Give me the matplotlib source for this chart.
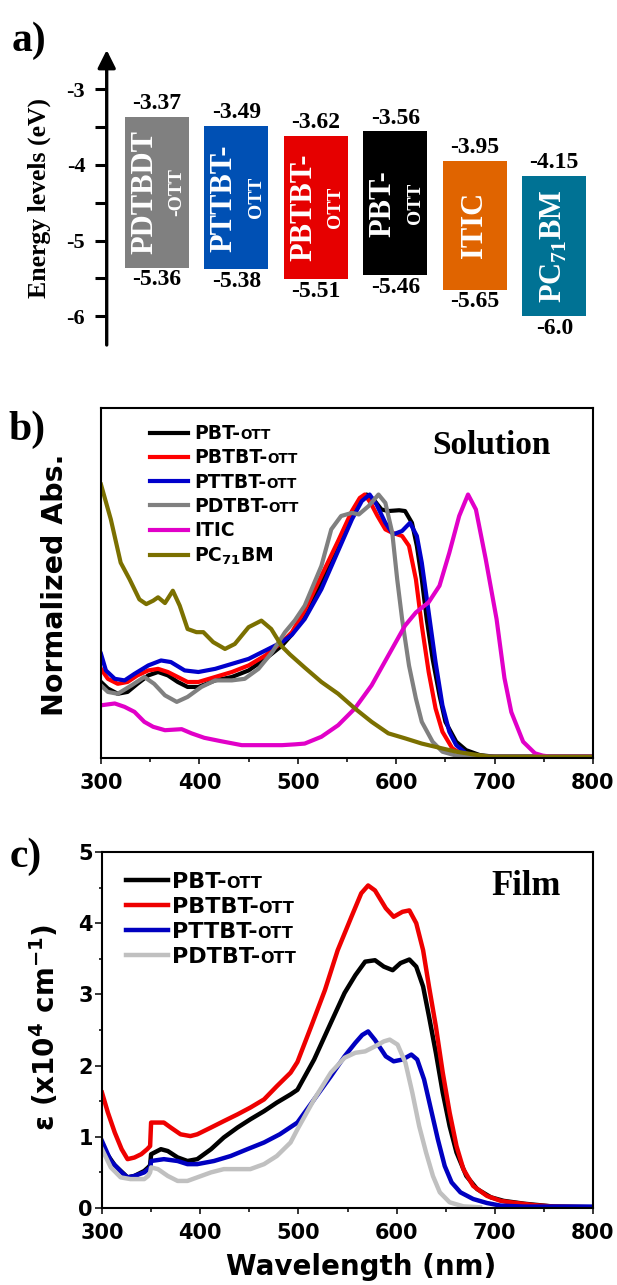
import matplotlib
matplotlib.use('Agg')
import matplotlib.pyplot as plt

plt.rcParams['font.family'] = ['DejaVu Sans']
plt.rcParams['font.weight'] = 'bold'
plt.rcParams['axes.unicode_minus'] = False
plt.rcParams['mathtext.fontset'] = 'custom'
plt.rcParams['mathtext.rm'] = 'Liberation Serif:bold'
plt.rcParams['mathtext.sf'] = 'DejaVu Sans:bold'
plt.rcParams['mathtext.it'] = 'DejaVu Sans:bold'
plt.rcParams['mathtext.bf'] = 'DejaVu Sans:bold'
SERIF = 'Liberation Serif'

# ---------------- a) energy levels ----------------
mat_names = ['PDTBDT', 'PTTBT-', 'PBTBT-', 'PBT-', 'ITIC', r'PC$_{\mathrm{71}}$BM']
mat_suffix = ['-OTT', 'OTT', 'OTT', 'OTT', '', '']
lumo = [-3.37, -3.49, -3.62, -3.56, -3.95, -4.15]
homo = [-5.36, -5.38, -5.51, -5.46, -5.65, -6.0]
lumo_txt = ['-3.37', '-3.49', '-3.62', '-3.56', '-3.95', '-4.15']
homo_txt = ['-5.36', '-5.38', '-5.51', '-5.46', '-5.65', '-6.0']
bar_colors = ['#808080', '#0050b4', '#e60000', '#000000', '#e06400', '#007294']

# ---------------- b) solution spectra ----------------
wl_pbt = [300, 307, 317, 327, 337, 348, 358, 368, 378, 388, 399, 416, 433, 450, 467, 484, 493,
          507, 524, 541, 555, 563, 570, 577, 585, 592, 603, 609, 616, 621, 626, 631, 637, 644,
          650, 661, 671, 685, 700, 800]
ab_pbt = [0.285, 0.26, 0.24, 0.247, 0.278, 0.31, 0.323, 0.31, 0.285, 0.266, 0.266, 0.291, 0.304,
          0.329, 0.373, 0.424, 0.462, 0.538, 0.665, 0.804, 0.918, 0.981, 1.0, 0.981, 0.943, 0.937,
          0.94, 0.937, 0.892, 0.804, 0.677, 0.525, 0.373, 0.234, 0.133, 0.057, 0.025, 0.006, 0.0, 0.0]

wl_pbtbt = [300, 307, 317, 327, 337, 348, 358, 368, 378, 388, 399, 416, 433, 450, 467, 484, 494,
            507, 524, 541, 555, 563, 568, 574, 581, 589, 596, 606, 613, 620, 626, 633, 640, 647,
            657, 667, 678, 800]
ab_pbtbt = [0.335, 0.297, 0.278, 0.285, 0.31, 0.329, 0.335, 0.323, 0.304, 0.285, 0.285, 0.304,
            0.323, 0.348, 0.386, 0.437, 0.475, 0.557, 0.69, 0.823, 0.937, 0.987, 1.0, 0.968, 0.918,
            0.867, 0.854, 0.842, 0.804, 0.677, 0.5, 0.323, 0.184, 0.095, 0.032, 0.009, 0.0, 0.0]

wl_pttbt = [300, 305, 314, 324, 334, 348, 361, 371, 385, 399, 416, 433, 450, 467, 484, 494,
            507, 524, 541, 555, 565, 573, 580, 589, 597, 606, 614, 621, 626, 633, 640, 647, 654,
            661, 671, 681, 800]
ab_pttbt = [0.392, 0.329, 0.297, 0.291, 0.316, 0.348, 0.367, 0.361, 0.329, 0.323, 0.335, 0.354,
            0.373, 0.405, 0.437, 0.465, 0.525, 0.639, 0.785, 0.905, 0.975, 1.0, 0.962, 0.892,
            0.848, 0.861, 0.892, 0.842, 0.74, 0.551, 0.361, 0.196, 0.095, 0.044, 0.013, 0.0, 0.0]

wl_pdtbt = [300, 307, 317, 331, 344, 354, 365, 377, 388, 402, 416, 433, 446, 460, 474, 487, 497,
            507, 524, 534, 544, 555, 562, 572, 582, 589, 596, 601, 606, 613, 620, 626, 637, 647,
            661, 680, 800]
ab_pdtbt = [0.272, 0.247, 0.24, 0.272, 0.304, 0.278, 0.234, 0.209, 0.228, 0.266, 0.291, 0.291,
            0.297, 0.335, 0.399, 0.475, 0.52, 0.576, 0.728, 0.867, 0.918, 0.93, 0.924, 0.956, 1.0,
            0.968, 0.854, 0.677, 0.525, 0.348, 0.222, 0.133, 0.057, 0.019, 0.004, 0.0, 0.0]

wl_itic = [300, 314, 324, 334, 344, 353, 365, 382, 392, 405, 422, 443, 463, 484, 497, 507, 524,
           541, 558, 575, 592, 609, 620, 633, 644, 654, 664, 673, 681, 691, 702, 710, 717, 729,
           741, 749, 757, 800]
ab_itic = [0.196, 0.203, 0.19, 0.171, 0.133, 0.114, 0.101, 0.105, 0.089, 0.072, 0.059, 0.044,
           0.044, 0.044, 0.047, 0.05, 0.076, 0.12, 0.184, 0.272, 0.386, 0.5, 0.55, 0.589, 0.652,
           0.778, 0.918, 1.0, 0.943, 0.753, 0.525, 0.3, 0.17, 0.057, 0.013, 0.004, 0.0, 0.0]

wl_pcbm = [300, 310, 320, 329, 339, 346, 353, 358, 365, 373, 380, 388, 397, 404, 414, 426, 436,
           450, 463, 473, 484, 492, 507, 524, 541, 558, 575, 592, 609, 626, 644, 661, 678, 695, 800]
ab_pcbm = [1.038, 0.905, 0.74, 0.677, 0.6, 0.582, 0.595, 0.608, 0.586, 0.633, 0.576, 0.487,
           0.475, 0.475, 0.437, 0.411, 0.43, 0.494, 0.519, 0.487, 0.42, 0.39, 0.34, 0.285, 0.24,
           0.184, 0.133, 0.089, 0.07, 0.05, 0.034, 0.019, 0.009, 0.0, 0.0]

# ---------------- c) film extinction ----------------
wl_f_pbt = [300, 313, 326, 333, 343, 347, 349, 350, 360, 367, 377, 387, 397, 411, 424, 438, 451,
            465, 478, 492, 499, 516, 533, 547, 558, 568, 578, 587, 596, 604, 613, 620, 627, 633,
            640, 647, 654, 661, 671, 682, 696, 709, 730, 760, 800]
ep_f_pbt = [0.86, 0.6, 0.43, 0.45, 0.52, 0.57, 0.6, 0.755, 0.826, 0.8, 0.71, 0.66, 0.686, 0.826,
            0.99, 1.13, 1.245, 1.36, 1.48, 1.595, 1.66, 2.085, 2.6, 3.02, 3.27, 3.46, 3.48, 3.39,
            3.34, 3.44, 3.49, 3.39, 3.11, 2.69, 2.18, 1.62, 1.15, 0.78, 0.45, 0.266, 0.15, 0.1,
            0.06, 0.02, 0.01]

wl_f_pbtbt = [300, 306, 313, 320, 326, 333, 340, 346, 349, 350, 357, 363, 370, 380, 390, 397,
              411, 424, 438, 451, 465, 478, 492, 499, 513, 527, 540, 554, 564, 571, 578, 589, 597,
              606, 613, 620, 627, 633, 640, 647, 654, 661, 668, 678, 692, 706, 716, 740, 760, 800]
ep_f_pbtbt = [1.62, 1.34, 1.06, 0.826, 0.686, 0.709, 0.756, 0.826, 0.87, 1.2, 1.2, 1.2, 1.13,
              1.035, 1.01, 1.035, 1.13, 1.22, 1.315, 1.41, 1.525, 1.71, 1.9, 2.05, 2.55, 3.06,
              3.62, 4.09, 4.42, 4.53, 4.46, 4.21, 4.09, 4.16, 4.18, 4.0, 3.62, 3.11, 2.55, 1.9,
              1.34, 0.87, 0.546, 0.31, 0.17, 0.1, 0.08, 0.04, 0.02, 0.01]

wl_f_pttbt = [300, 309, 320, 326, 333, 343, 347, 349, 350, 363, 377, 387, 397, 414, 431, 448,
              465, 481, 499, 516, 533, 547, 558, 565, 571, 578, 589, 597, 606, 615, 621, 628, 635,
              642, 649, 656, 665, 678, 692, 706, 730, 800]
ep_f_pttbt = [0.94, 0.66, 0.5, 0.43, 0.45, 0.5, 0.546, 0.55, 0.66, 0.686, 0.66, 0.616, 0.616,
              0.66, 0.73, 0.826, 0.92, 1.035, 1.2, 1.525, 1.85, 2.13, 2.32, 2.43, 2.48, 2.36, 2.13,
              2.06, 2.085, 2.155, 2.085, 1.805, 1.385, 0.965, 0.59, 0.36, 0.22, 0.126, 0.07,
              0.033, 0.02, 0.02]

wl_f_pdtbt = [300, 309, 319, 329, 343, 347, 349, 350, 357, 367, 377, 387, 397, 411, 424, 438,
              451, 465, 478, 492, 499, 516, 533, 547, 558, 568, 578, 587, 593, 601, 609, 616, 623,
              630, 637, 644, 654, 668, 685]
ep_f_pdtbt = [0.826, 0.57, 0.43, 0.406, 0.406, 0.45, 0.5, 0.57, 0.546, 0.45, 0.38, 0.38, 0.43,
              0.5, 0.546, 0.546, 0.546, 0.616, 0.73, 0.92, 1.105, 1.525, 1.9, 2.11, 2.18, 2.2,
              2.27, 2.34, 2.365, 2.295, 2.04, 1.62, 1.15, 0.78, 0.45, 0.22, 0.08, 0.023, 0.01]

W, H = 617, 1285
fig = plt.figure(figsize=(W / 100, H / 100), dpi=100)


def box(left, top, right, bottom):
    return [left / W, 1 - bottom / H, (right - left) / W, (bottom - top) / H]


# ===== panel a =====
axa = fig.add_axes(box(106.7, 50, 600, 345))
xs = list(range(len(lumo)))
heights = [l - h for l, h in zip(lumo, homo)]
axa.bar(xs, heights, bottom=homo, width=0.805, color=bar_colors)
axa.set_xlim(-0.63, 5.575)
axa.set_ylim(-6.378, -2.485)
for s in ['top', 'right', 'bottom', 'left']:
    axa.spines[s].set_visible(False)
axa.set_xticks([])
axa.set_yticks([-3, -4, -5, -6])
axa.set_yticks([-3.5, -4.5, -5.5], minor=True)
axa.set_yticklabels(['-3', '-4', '-5', '-6'], family=SERIF, fontsize=16, fontweight='bold')
axa.tick_params(axis='y', which='both', direction='out', length=8.5, width=2.2, pad=7)
axa.annotate('', xy=(0, 1), xytext=(0, 0), xycoords='axes fraction',
             arrowprops=dict(arrowstyle='-|>,head_length=0.6,head_width=0.3', lw=2.4,
                             color='k', shrinkA=0, shrinkB=0, mutation_scale=18))
for i in xs:
    mid = (lumo[i] + homo[i]) / 2
    if mat_suffix[i]:
        axa.text(i - 0.15, mid, mat_names[i], rotation=90, ha='center', va='center',
                 color='white', family=SERIF, fontsize=22, fontweight='bold')
        axa.text(i + 0.25, mid, mat_suffix[i], rotation=90, ha='center', va='center',
                 color='white', family=SERIF, fontsize=14, fontweight='bold')
    else:
        axa.text(i, mid, mat_names[i], rotation=90, ha='center', va='center',
                 color='white', family=SERIF, fontsize=22, fontweight='bold')
    axa.annotate(lumo_txt[i], (i, lumo[i]), xytext=(0, 2), textcoords='offset points',
                 ha='center', va='bottom', family=SERIF, fontsize=17, fontweight='bold')
    axa.annotate(homo_txt[i], (i, homo[i]), xytext=(0, -1), textcoords='offset points',
                 ha='center', va='top', family=SERIF, fontsize=17, fontweight='bold')
fig.text(39 / W, 1 - 198 / H, 'Energy levels (eV)', rotation=90, ha='center', va='center',
         family=SERIF, fontsize=18.5, fontweight='bold')

# ===== panel b =====
axb = fig.add_axes(box(101, 408, 593, 758))
sol = [(wl_pbt, ab_pbt, '#000000', 'PBT-'),
       (wl_pbtbt, ab_pbtbt, '#ff0000', 'PBTBT-'),
       (wl_pttbt, ab_pttbt, '#0000cc', 'PTTBT-'),
       (wl_pdtbt, ab_pdtbt, '#808080', 'PDTBT-'),
       (wl_itic, ab_itic, '#e100c8', 'ITIC'),
       (wl_pcbm, ab_pcbm, '#7b7000', r'PC$_{\mathsf{71}}$BM')]
for wl, ab, c, lab in sol:
    axb.plot(wl, ab, color=c, lw=3.0, label=lab, solid_joinstyle='round')
axb.set_xlim(300, 800)
axb.set_ylim(-0.005, 1.33)
axb.set_yticks([])
axb.set_xticks(range(300, 801, 100))
axb.set_xticks(range(350, 800, 100), minor=True)
axb.tick_params(axis='x', which='both', direction='out', labelsize=15, pad=6, width=1.1)
axb.tick_params(axis='x', which='major', length=4.5)
axb.tick_params(axis='x', which='minor', length=3)
for s in axb.spines.values():
    s.set_linewidth(1.5)
leg_b = axb.legend(loc='upper left', bbox_to_anchor=(0.0996, 0.954), frameon=False,
                   fontsize=13.5, borderpad=0, borderaxespad=0, handlelength=2.0,
                   handletextpad=0.35, labelspacing=0.28)
axb.text(0.913, 0.869, 'Solution', transform=axb.transAxes, ha='right', va='baseline',
         family=SERIF, fontsize=24, fontweight='bold')
fig.text(55 / W, 1 - 585 / H, 'Normalized Abs.', rotation=90, ha='center', va='center',
         fontsize=20.5, fontweight='bold')

# ===== panel c =====
axc = fig.add_axes(box(102, 852, 593, 1208))
film = [(wl_f_pbt, ep_f_pbt, '#000000', 'PBT-'),
        (wl_f_pbtbt, ep_f_pbtbt, '#ee0000', 'PBTBT-'),
        (wl_f_pttbt, ep_f_pttbt, '#0000c0', 'PTTBT-'),
        (wl_f_pdtbt, ep_f_pdtbt, '#c0c0c0', 'PDTBT-')]
for wl, ep, c, lab in film:
    axc.plot(wl, ep, color=c, lw=3.2, label=lab, solid_joinstyle='round')
axc.set_xlim(300, 800)
axc.set_ylim(0, 5)
axc.set_xticks(range(300, 801, 100))
axc.set_xticks(range(350, 800, 100), minor=True)
axc.set_yticks(range(0, 6))
axc.set_yticks([0.5, 1.5, 2.5, 3.5, 4.5], minor=True)
axc.tick_params(which='both', direction='out', labelsize=15, width=1.1)
axc.tick_params(axis='x', which='major', length=4.5, pad=6)
axc.tick_params(axis='x', which='minor', length=3)
axc.tick_params(axis='y', which='major', length=5, pad=1.5)
axc.tick_params(axis='y', which='minor', length=2.5)
for s in axc.spines.values():
    s.set_linewidth(1.5)
leg_c = axc.legend(loc='upper left', bbox_to_anchor=(0.049, 0.944), frameon=False,
                   fontsize=16, borderpad=0, borderaxespad=0, handlelength=1.9,
                   handletextpad=0.15, labelspacing=0.22)
axc.text(0.935, 0.879, 'Film', transform=axc.transAxes, ha='right', va='baseline',
         family=SERIF, fontsize=25, fontweight='bold')
fig.text(45 / W, 1 - 1027 / H, r'ε (x10$^{\mathsf{4}}$ cm$^{\mathsf{-1}}$)', rotation=90,
         ha='center', va='center', fontsize=20, fontweight='bold')
fig.text(361 / W, 1 - 1275 / H, 'Wavelength (nm)', ha='center', va='baseline',
         fontsize=20, fontweight='bold')

# panel letters
fig.text(12 / W, 1 - 51 / H, 'a)', family=SERIF, fontsize=30, fontweight='bold', va='baseline')
fig.text(8 / W, 1 - 440 / H, 'b)', family=SERIF, fontsize=30, fontweight='bold', va='baseline')
fig.text(10 / W, 1 - 867 / H, 'c)', family=SERIF, fontsize=30, fontweight='bold', va='baseline')

# small-caps "OTT" after the polymer names in the legends
fig.canvas.draw()
rend = fig.canvas.get_renderer()
for leg, fs in [(leg_b, 13.5), (leg_c, 16)]:
    for t in leg.get_texts():
        if not t.get_text().endswith('-'):
            continue
        bb = t.get_window_extent(rend)
        _, _, d = rend.get_text_width_height_descent('lp', t.get_fontproperties(), ismath=False)
        fig.text(bb.x1 / fig.bbox.width, (bb.y0 + d) / fig.bbox.height, 'OTT',
                 fontsize=fs * 0.72, fontweight='bold', va='baseline', ha='left')

fig.savefig('out.png', dpi=100)
